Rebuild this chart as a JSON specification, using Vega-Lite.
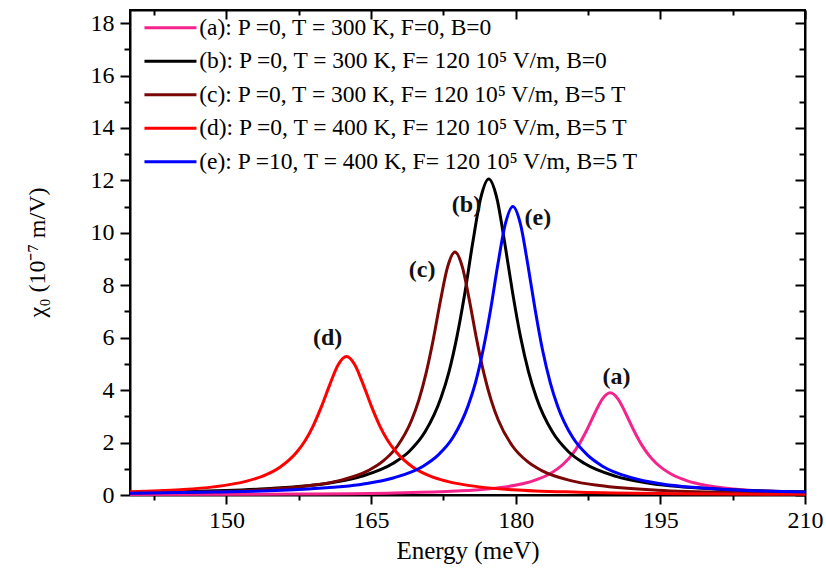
{
  "$schema": "https://vega.github.io/schema/vega-lite/v6.json",
  "width": 675,
  "height": 485,
  "autosize": {"type": "none"},
  "padding": {"left": 130, "top": 10, "right": 21, "bottom": 81},
  "background": "white",
  "config": {
    "font": "Liberation Serif",
    "view": {"stroke": "black", "strokeWidth": 2},
    "axis": {
      "grid": false,
      "domainColor": "black",
      "domainWidth": 2,
      "tickColor": "black",
      "tickWidth": 2,
      "labelColor": "black",
      "labelFont": "Liberation Serif",
      "labelFontSize": 24,
      "titleFont": "Liberation Serif",
      "titleColor": "black",
      "titleFontWeight": "normal"
    }
  },
  "datasets": {
    "curves": [
      {"s": "a", "x": 140, "y": 0.016}, {"s": "a", "x": 157.8, "y": 0.039}, {"s": "a", "x": 167.4, "y": 0.078}, {"s": "a", "x": 173.8, "y": 0.15}, {"s": "a", "x": 177.0, "y": 0.23}, {"s": "a", "x": 180.2, "y": 0.39}, {"s": "a", "x": 181.8, "y": 0.54}, {"s": "a", "x": 183.4, "y": 0.78}, {"s": "a", "x": 185.0, "y": 1.20}, {"s": "a", "x": 185.8, "y": 1.52}, {"s": "a", "x": 186.6, "y": 1.95}, {"s": "a", "x": 187.4, "y": 2.50}, {"s": "a", "x": 188.2, "y": 3.12}, {"s": "a", "x": 189.0, "y": 3.67}, {"s": "a", "x": 189.8, "y": 3.9}, {"s": "a", "x": 190.6, "y": 3.67}, {"s": "a", "x": 191.4, "y": 3.12}, {"s": "a", "x": 192.2, "y": 2.50}, {"s": "a", "x": 193.0, "y": 1.95}, {"s": "a", "x": 193.8, "y": 1.52}, {"s": "a", "x": 194.6, "y": 1.20}, {"s": "a", "x": 196.2, "y": 0.78}, {"s": "a", "x": 197.8, "y": 0.54}, {"s": "a", "x": 199.4, "y": 0.39}, {"s": "a", "x": 202.6, "y": 0.23}, {"s": "a", "x": 205.8, "y": 0.15}, {"s": "a", "x": 210, "y": 0.096},
      {"s": "b", "x": 140, "y": 0.094}, {"s": "b", "x": 144.2, "y": 0.12}, {"s": "b", "x": 154.1, "y": 0.24}, {"s": "b", "x": 160.7, "y": 0.46}, {"s": "b", "x": 164.0, "y": 0.71}, {"s": "b", "x": 167.3, "y": 1.21}, {"s": "b", "x": 168.95, "y": 1.66}, {"s": "b", "x": 170.6, "y": 2.41}, {"s": "b", "x": 172.25, "y": 3.71}, {"s": "b", "x": 173.08, "y": 4.70}, {"s": "b", "x": 173.9, "y": 6.03}, {"s": "b", "x": 174.73, "y": 7.71}, {"s": "b", "x": 175.55, "y": 9.64}, {"s": "b", "x": 176.38, "y": 11.34}, {"s": "b", "x": 177.2, "y": 12.05}, {"s": "b", "x": 178.03, "y": 11.34}, {"s": "b", "x": 178.85, "y": 9.64}, {"s": "b", "x": 179.68, "y": 7.71}, {"s": "b", "x": 180.5, "y": 6.03}, {"s": "b", "x": 181.33, "y": 4.70}, {"s": "b", "x": 182.15, "y": 3.71}, {"s": "b", "x": 183.8, "y": 2.41}, {"s": "b", "x": 185.45, "y": 1.66}, {"s": "b", "x": 187.1, "y": 1.21}, {"s": "b", "x": 190.4, "y": 0.71}, {"s": "b", "x": 193.7, "y": 0.46}, {"s": "b", "x": 200.3, "y": 0.24}, {"s": "b", "x": 210, "y": 0.12},
      {"s": "c", "x": 140, "y": 0.073}, {"s": "c", "x": 143.7, "y": 0.093}, {"s": "c", "x": 152.7, "y": 0.185}, {"s": "c", "x": 158.7, "y": 0.36}, {"s": "c", "x": 161.7, "y": 0.55}, {"s": "c", "x": 164.7, "y": 0.93}, {"s": "c", "x": 166.2, "y": 1.28}, {"s": "c", "x": 167.7, "y": 1.85}, {"s": "c", "x": 169.2, "y": 2.85}, {"s": "c", "x": 169.95, "y": 3.62}, {"s": "c", "x": 170.7, "y": 4.64}, {"s": "c", "x": 171.45, "y": 5.93}, {"s": "c", "x": 172.2, "y": 7.42}, {"s": "c", "x": 172.95, "y": 8.72}, {"s": "c", "x": 173.7, "y": 9.27}, {"s": "c", "x": 174.45, "y": 8.72}, {"s": "c", "x": 175.2, "y": 7.42}, {"s": "c", "x": 175.95, "y": 5.93}, {"s": "c", "x": 176.7, "y": 4.64}, {"s": "c", "x": 177.45, "y": 3.62}, {"s": "c", "x": 178.2, "y": 2.85}, {"s": "c", "x": 179.7, "y": 1.85}, {"s": "c", "x": 181.2, "y": 1.28}, {"s": "c", "x": 182.7, "y": 0.93}, {"s": "c", "x": 185.7, "y": 0.55}, {"s": "c", "x": 188.7, "y": 0.36}, {"s": "c", "x": 194.7, "y": 0.185}, {"s": "c", "x": 203.7, "y": 0.093}, {"s": "c", "x": 210, "y": 0.063},
      {"s": "d", "x": 140, "y": 0.122}, {"s": "d", "x": 145.2, "y": 0.20}, {"s": "d", "x": 148.65, "y": 0.31}, {"s": "d", "x": 152.1, "y": 0.53}, {"s": "d", "x": 153.83, "y": 0.73}, {"s": "d", "x": 155.55, "y": 1.06}, {"s": "d", "x": 157.28, "y": 1.63}, {"s": "d", "x": 158.14, "y": 2.06}, {"s": "d", "x": 159.0, "y": 2.64}, {"s": "d", "x": 159.86, "y": 3.38}, {"s": "d", "x": 160.73, "y": 4.22}, {"s": "d", "x": 161.59, "y": 4.97}, {"s": "d", "x": 162.45, "y": 5.28}, {"s": "d", "x": 163.31, "y": 4.97}, {"s": "d", "x": 164.18, "y": 4.22}, {"s": "d", "x": 165.04, "y": 3.38}, {"s": "d", "x": 165.9, "y": 2.64}, {"s": "d", "x": 166.76, "y": 2.06}, {"s": "d", "x": 167.63, "y": 1.63}, {"s": "d", "x": 169.35, "y": 1.06}, {"s": "d", "x": 171.08, "y": 0.73}, {"s": "d", "x": 172.8, "y": 0.53}, {"s": "d", "x": 176.25, "y": 0.31}, {"s": "d", "x": 179.7, "y": 0.20}, {"s": "d", "x": 186.6, "y": 0.106}, {"s": "d", "x": 197.0, "y": 0.052}, {"s": "d", "x": 210, "y": 0.028},
      {"s": "e", "x": 140, "y": 0.067}, {"s": "e", "x": 148.7, "y": 0.11}, {"s": "e", "x": 158.0, "y": 0.22}, {"s": "e", "x": 164.2, "y": 0.42}, {"s": "e", "x": 167.3, "y": 0.65}, {"s": "e", "x": 170.4, "y": 1.1}, {"s": "e", "x": 171.95, "y": 1.52}, {"s": "e", "x": 173.5, "y": 2.2}, {"s": "e", "x": 175.05, "y": 3.39}, {"s": "e", "x": 175.83, "y": 4.29}, {"s": "e", "x": 176.6, "y": 5.5}, {"s": "e", "x": 177.38, "y": 7.04}, {"s": "e", "x": 178.15, "y": 8.8}, {"s": "e", "x": 178.93, "y": 10.35}, {"s": "e", "x": 179.7, "y": 11.0}, {"s": "e", "x": 180.48, "y": 10.35}, {"s": "e", "x": 181.25, "y": 8.8}, {"s": "e", "x": 182.03, "y": 7.04}, {"s": "e", "x": 182.8, "y": 5.5}, {"s": "e", "x": 183.58, "y": 4.29}, {"s": "e", "x": 184.35, "y": 3.39}, {"s": "e", "x": 185.9, "y": 2.2}, {"s": "e", "x": 187.45, "y": 1.52}, {"s": "e", "x": 189.0, "y": 1.1}, {"s": "e", "x": 192.1, "y": 0.65}, {"s": "e", "x": 195.2, "y": 0.42}, {"s": "e", "x": 201.4, "y": 0.22}, {"s": "e", "x": 210, "y": 0.11}
    ],
    "labels": [
      {"t": "(a)", "x": 190.46, "y": 4.52},
      {"t": "(b)", "x": 174.9, "y": 11.07},
      {"t": "(c)", "x": 170.3, "y": 8.6},
      {"t": "(d)", "x": 160.5, "y": 6.0},
      {"t": "(e)", "x": 182.3, "y": 10.56}
    ]
  },
  "layer": [
    {
      "data": {"name": "curves"},
      "mark": {"type": "line", "strokeWidth": 3, "interpolate": "monotone"},
      "encoding": {
        "x": {
          "field": "x", "type": "quantitative",
          "scale": {"domain": [140, 210], "nice": false, "zero": false},
          "axis": {
            "orient": "bottom",
            "title": "Energy (meV)",
            "titleFontSize": 25,
            "titlePadding": 6,
            "values": [142.5, 150, 157.5, 165, 172.5, 180, 187.5, 195, 202.5, 210],
            "labelExpr": "datum.value % 15 === 0 ? datum.label : ''",
            "tickSize": {"condition": {"test": "datum.value % 15 === 0", "value": 9}, "value": 5},
            "labelPadding": 4,
            "labelFlush": false,
            "labelOverlap": false
          }
        },
        "y": {
          "field": "y", "type": "quantitative",
          "scale": {"domain": [0, 18.5], "nice": false, "zero": false},
          "axis": {
            "orient": "left",
            "title": "χ₀ (10⁻⁷ m/V)",
            "titleFontSize": 24,
            "titleX": -93,
            "titleY": 242,
            "titleBaseline": "middle",
            "titleAlign": "center",
            "values": [0, 1, 2, 3, 4, 5, 6, 7, 8, 9, 10, 11, 12, 13, 14, 15, 16, 17, 18],
            "labelExpr": "datum.value % 2 === 0 ? datum.label : ''",
            "tickSize": {"condition": {"test": "datum.value % 2 === 0", "value": 10}, "value": 6},
            "labelPadding": 6,
            "labelFlush": false,
            "labelOverlap": false
          }
        },
        "color": {
          "field": "s", "type": "nominal",
          "scale": {"domain": ["a", "b", "c", "d", "e"], "range": ["#f5248c", "#000000", "#7a0606", "#ff0000", "#0000ff"]},
          "legend": {
            "orient": "none",
            "legendX": 28.7,
            "legendY": 6,
            "title": null,
            "padding": 0,
            "symbolType": "M-2.6,0H2.6",
            "symbolSize": 400,
            "symbolStrokeWidth": 3,
            "labelFont": "Liberation Serif",
            "labelFontSize": 23.5,
            "labelColor": "black",
            "labelOffset": 17,
            "labelLimit": 600,
            "rowPadding": 8.5,
            "labelExpr": "datum.value === 'a' ? '(a): P =0, T = 300 K, F=0, B=0' : datum.value === 'b' ? '(b): P =0, T = 300 K, F= 120 10⁵ V/m, B=0' : datum.value === 'c' ? '(c): P =0, T = 300 K, F= 120 10⁵ V/m, B=5 T' : datum.value === 'd' ? '(d): P =0, T = 400 K, F= 120 10⁵ V/m, B=5 T' : '(e): P =10, T = 400 K, F= 120 10⁵ V/m, B=5 T'"
          }
        }
      }
    },
    {
      "data": {"name": "labels"},
      "mark": {"type": "text", "font": "Liberation Serif", "fontWeight": "bold", "fontSize": 24, "color": "#111111", "align": "center", "baseline": "middle"},
      "encoding": {
        "x": {
          "field": "x", "type": "quantitative",
          "scale": {"domain": [140, 210], "nice": false, "zero": false},
          "axis": {
            "orient": "top", "title": null, "labels": false,
            "values": [142.5, 150, 157.5, 165, 172.5, 180, 187.5, 195, 202.5, 210],
            "tickSize": {"condition": {"test": "datum.value % 15 === 0", "value": -9}, "value": -5}
          }
        },
        "y": {
          "field": "y", "type": "quantitative",
          "scale": {"domain": [0, 18.5], "nice": false, "zero": false},
          "axis": {
            "orient": "right", "title": null, "labels": false,
            "values": [0, 1, 2, 3, 4, 5, 6, 7, 8, 9, 10, 11, 12, 13, 14, 15, 16, 17, 18],
            "tickSize": {"condition": {"test": "datum.value % 2 === 0", "value": -10}, "value": -6}
          }
        },
        "text": {"field": "t"}
      }
    }
  ],
  "resolve": {"axis": {"x": "independent", "y": "independent"}}
}
